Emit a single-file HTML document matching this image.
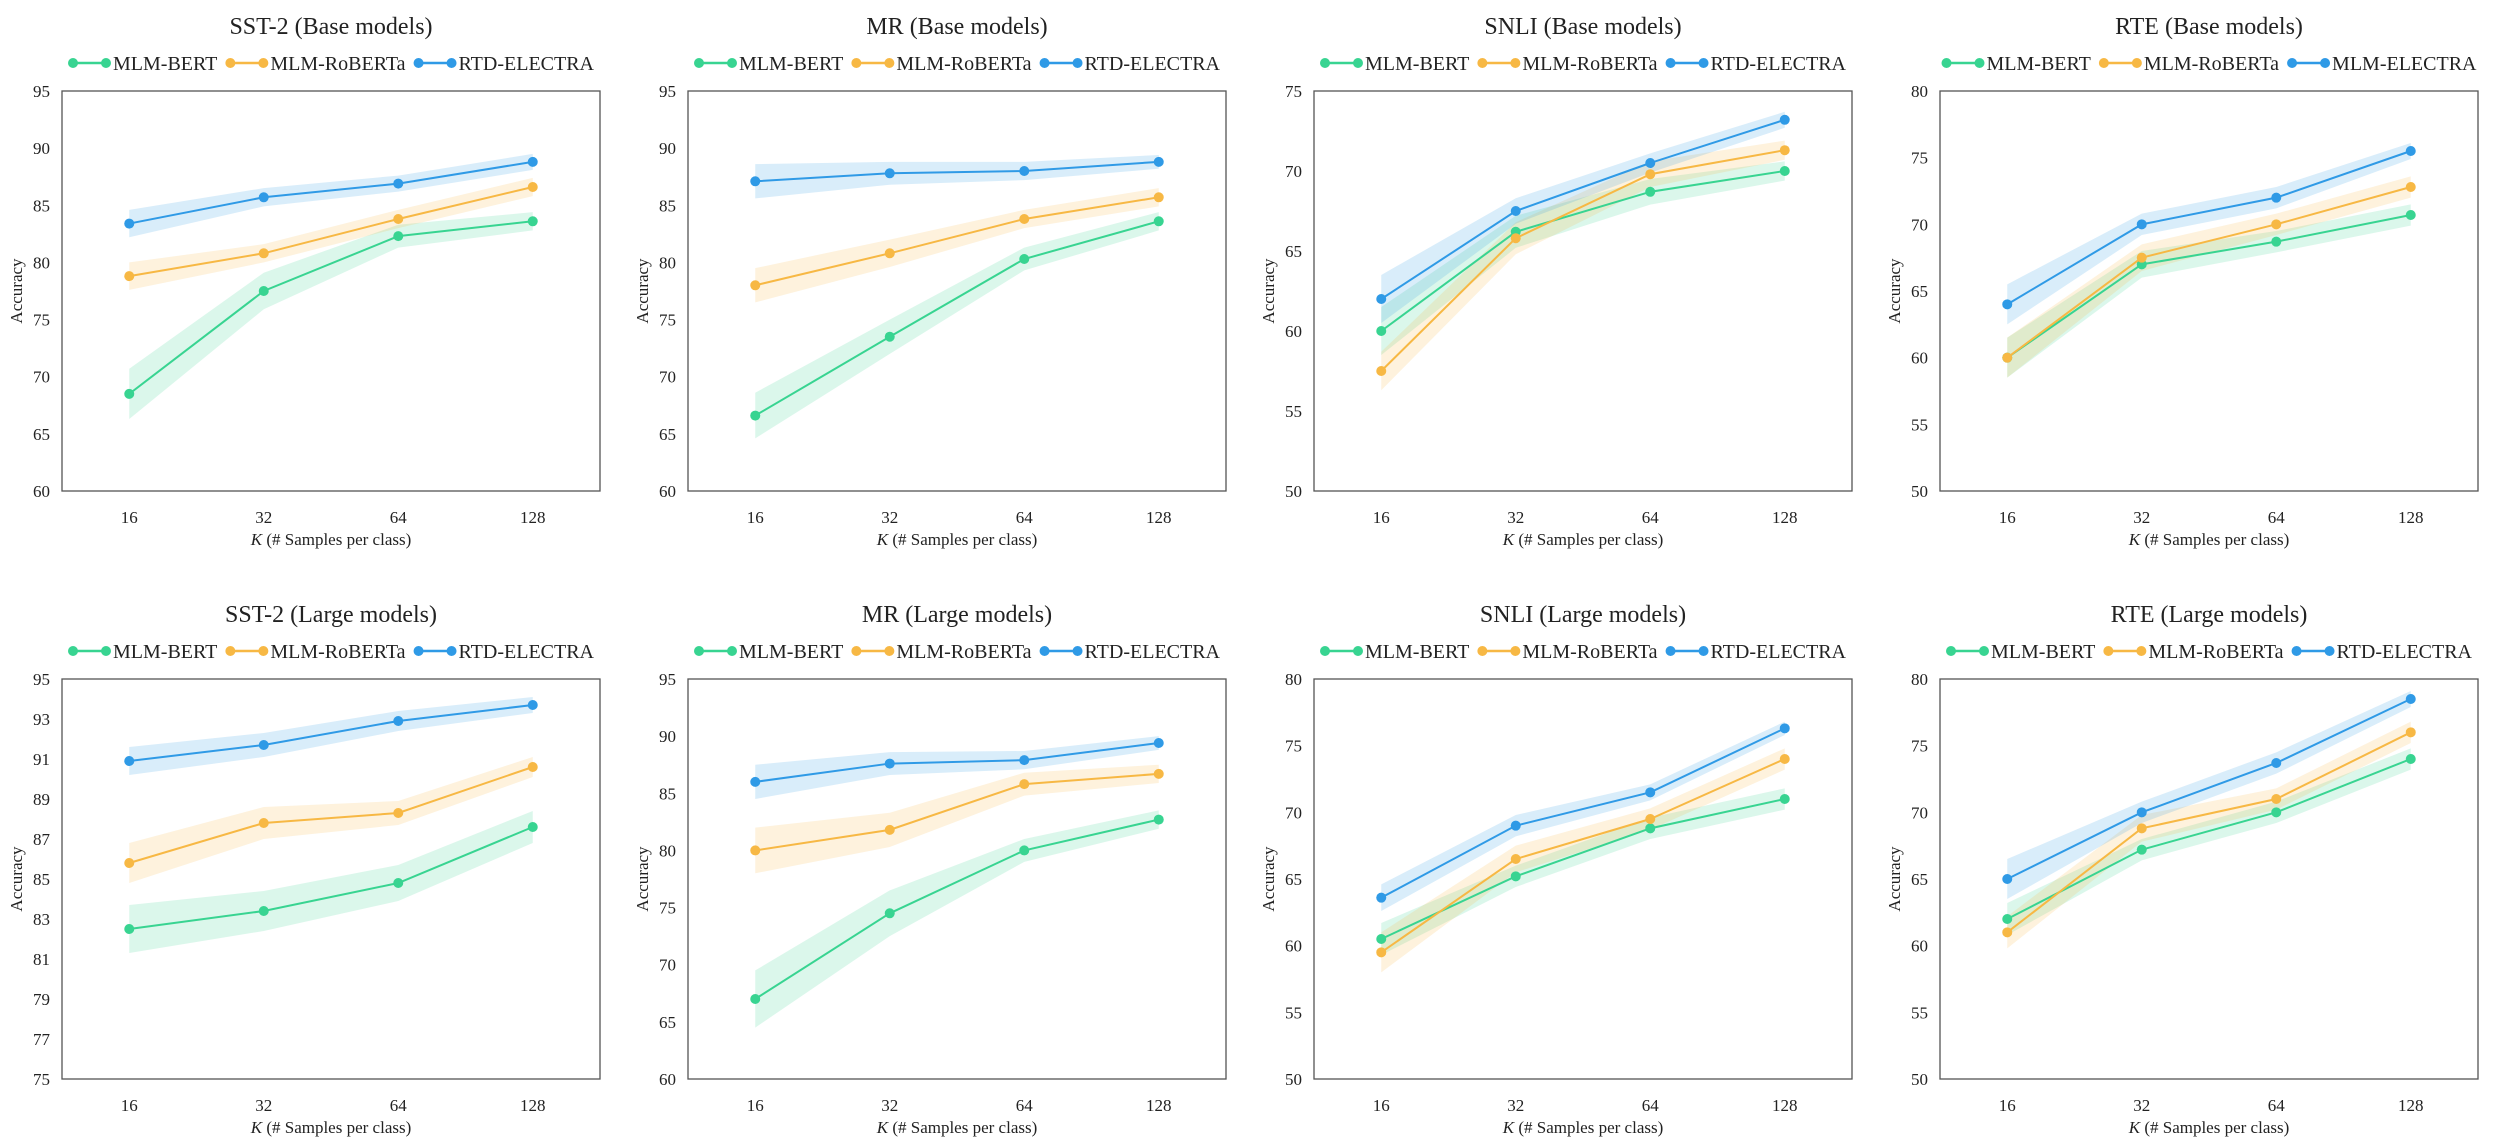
<!DOCTYPE html>
<html><head><meta charset="utf-8"><style>
html,body{margin:0;padding:0;background:#fff;}
svg{display:block;font-family:"Liberation Serif","Times New Roman",serif;}
</style></head><body>
<svg id="fig" width="2514" height="1148" viewBox="0 0 2514 1148" xmlns="http://www.w3.org/2000/svg"></svg>
<script>
const categories = ["16","32","64","128"];
const titles = ["SST-2 (Base models)","MR (Base models)","SNLI (Base models)","RTE (Base models)","SST-2 (Large models)","MR (Large models)","SNLI (Large models)","RTE (Large models)"];
const legendNames = [["MLM-BERT","MLM-RoBERTa","RTD-ELECTRA"],["MLM-BERT","MLM-RoBERTa","RTD-ELECTRA"],["MLM-BERT","MLM-RoBERTa","RTD-ELECTRA"],["MLM-BERT","MLM-RoBERTa","MLM-ELECTRA"],["MLM-BERT","MLM-RoBERTa","RTD-ELECTRA"],["MLM-BERT","MLM-RoBERTa","RTD-ELECTRA"],["MLM-BERT","MLM-RoBERTa","RTD-ELECTRA"],["MLM-BERT","MLM-RoBERTa","RTD-ELECTRA"]];
const yMin = [60,60,50,50,75,60,50,50];
const yMax = [95,95,75,80,95,95,80,80];
const yStep = [5,5,5,5,2,5,5,5];
const bert = [[68.5,77.5,82.3,83.6],[66.6,73.5,80.3,83.6],[60,66.2,68.7,70],[60,67,68.7,70.7],[82.5,83.4,84.8,87.6],[67,74.5,80,82.7],[60.5,65.2,68.8,71],[62,67.2,70,74]];
const roberta = [[78.8,80.8,83.8,86.6],[78,80.8,83.8,85.7],[57.5,65.8,69.8,71.3],[60,67.5,70,72.8],[85.8,87.8,88.3,90.6],[80,81.8,85.8,86.7],[59.5,66.5,69.5,74],[61,68.8,71,76]];
const electra = [[83.4,85.7,86.9,88.8],[87.1,87.8,88,88.8],[62,67.5,70.5,73.2],[64,70,72,75.5],[90.9,91.7,92.9,93.7],[86,87.6,87.9,89.4],[63.6,69,71.5,76.3],[65,70,73.7,78.5]];
const bertStd = [[2.2,1.6,1,0.8],[2,1.5,1,0.8],[1.5,1,0.8,0.6],[1.5,1,0.8,0.8],[1.2,1,0.9,0.8],[2.5,2,1,0.8],[1.2,0.8,0.8,0.8],[1.2,0.8,0.8,0.8]];
const robertaStd = [[1.2,0.8,0.8,0.8],[1.5,1.2,0.8,0.8],[1.2,1,0.8,0.6],[1.5,1,0.8,0.8],[1,0.8,0.6,0.5],[2,1.5,1,0.8],[1.5,1,0.8,0.8],[1.2,1,0.8,0.8]];
const electraStd = [[1.2,0.8,0.7,0.7],[1.5,1,0.8,0.6],[1.5,0.8,0.6,0.5],[1.5,0.8,0.8,0.6],[0.7,0.6,0.5,0.4],[1.5,1,0.8,0.6],[1,0.8,0.6,0.5],[1.5,0.8,0.8,0.6]];

const colors = ["#38d491","#f7b844","#2f9ae6"];
const NS = "http://www.w3.org/2000/svg";
const svg = document.getElementById("fig");
function mk(tag, attrs, parent){const e=document.createElementNS(NS,tag);for(const k in attrs)e.setAttribute(k,attrs[k]);(parent||svg).appendChild(e);return e;}

for(let c=0;c<8;c++){
  const col=c%4,row=Math.floor(c/4);
  const L=62+626*col, R=L+538, T=91+588*row, B=T+400;
  const g=mk("g",{});
  
  
  const band=(R-L)/categories.length;
  const xs=i=>L+band*(i+0.5);
  const ys=v=>B-(v-yMin[c])/(yMax[c]-yMin[c])*(B-T);
  const cx=(L+R)/2;
  const t=mk("text",{x:cx,y:T-57,"text-anchor":"middle","font-size":"24",fill:"#222"},g);t.textContent=titles[c];
  
  
  // legend
  const lg=mk("g",{},g);
  
  
  const names=legendNames[c];
  const ly=T-28;
  let lx=0;
  names.forEach((n,k)=>{
    const e=mk("g",{},lg);
    
    
    mk("line",{x1:lx+5,y1:ly,x2:lx+38,y2:ly,stroke:colors[k],"stroke-width":2.5},e);
    mk("circle",{cx:lx+5,cy:ly,r:5,fill:colors[k]},e);
    mk("circle",{cx:lx+38,cy:ly,r:5,fill:colors[k]},e);
    const tx=mk("text",{x:lx+45,y:ly+7,"font-size":"20",fill:"#222"},e);tx.textContent=n;
    lx+=45+tx.getComputedTextLength()+8;
  });
  const total=lx-8;
  lg.setAttribute("transform",`translate(${cx-total/2},0)`);
  // frame
  const fr=mk("rect",{x:L,y:T,width:R-L,height:B-T,fill:"none",stroke:"#555","stroke-width":1.3},g);
  
  
  for(let v=yMin[c];v<=yMax[c]+1e-9;v+=yStep[c]){
    const yt=mk("text",{x:L-12,y:ys(v)+6,"text-anchor":"end","font-size":"17",fill:"#222"},g);yt.textContent=v;
    
    
  }
  categories.forEach((cat,i)=>{
    const xt=mk("text",{x:xs(i),y:B+32,"text-anchor":"middle","font-size":"17",fill:"#222"},g);xt.textContent=cat;
    
    
  });
  const xl=mk("text",{x:cx,y:B+54,"text-anchor":"middle","font-size":"17",fill:"#222"},g);
  xl.innerHTML='<tspan font-style="italic">K</tspan> (# Samples per class)';
  
  
  const yl=mk("text",{x:0,y:0,"text-anchor":"middle","font-size":"17",fill:"#222",transform:`translate(${L-40},${(T+B)/2}) rotate(-90)`},g);
  yl.textContent="Accuracy";
  
  
  const series=[[bert[c],bertStd[c]],[roberta[c],robertaStd[c]],[electra[c],electraStd[c]]];
  series.forEach(([vals,sd],k)=>{
    const up=vals.map((v,i)=>xs(i)+","+ys(v+sd[i]));
    const dn=vals.map((v,i)=>xs(i)+","+ys(v-sd[i])).reverse();
    const bd=mk("polygon",{points:up.concat(dn).join(" "),fill:colors[k],"fill-opacity":0.18,stroke:"none"},g);
    
    
  });
  series.forEach(([vals],k)=>{
    const ln=mk("polyline",{points:vals.map((v,i)=>xs(i)+","+ys(v)).join(" "),fill:"none",stroke:colors[k],"stroke-width":2},g);
    
    
    vals.forEach((v,i)=>{
      const p=mk("circle",{cx:xs(i),cy:ys(v),r:5,fill:colors[k]},g);
      
      
    });
  });
}
</script>
</body></html>
